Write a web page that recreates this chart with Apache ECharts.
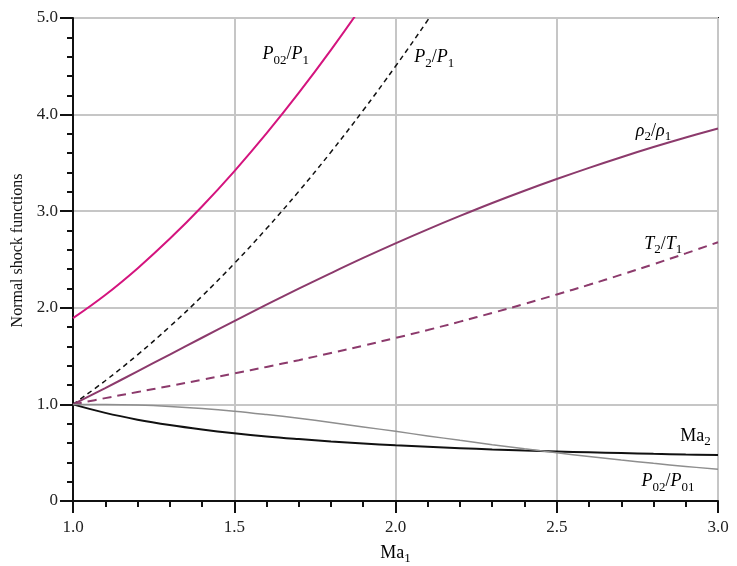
<!DOCTYPE html>
<html>
<head>
<meta charset="utf-8">
<script src="https://cdn.jsdelivr.net/npm/echarts@6/dist/echarts.min.js"></script>
<style>
  html, body { margin: 0; padding: 0; background: #fff; }
  #chart { width: 737px; height: 566px; }
</style>
</head>
<body>
<div id="chart"></div>
<script>
// Mach number upstream (x axis)
var mach1 = [1.0, 1.1, 1.2, 1.3, 1.4, 1.5, 1.6, 1.7, 1.8, 1.9, 2.0,
             2.1, 2.2, 2.3, 2.4, 2.5, 2.6, 2.7, 2.8, 2.9, 3.0];

// curves
var p02p1  = [1.893, 2.133, 2.408, 2.714, 3.049, 3.413, 3.805, 4.224, 4.670, 5.142, 5.640];
var p2p1   = [1.000, 1.245, 1.513, 1.805, 2.120, 2.458, 2.820, 3.205, 3.613, 4.045, 4.500,
              4.978, 5.480];
var rho2   = [1.000, 1.169, 1.342, 1.516, 1.690, 1.862, 2.032, 2.198, 2.359, 2.516, 2.667,
              2.812, 2.951, 3.085, 3.212, 3.333, 3.449, 3.559, 3.664, 3.763, 3.857];
var t2t1   = [1.000, 1.065, 1.128, 1.191, 1.255, 1.320, 1.388, 1.458, 1.532, 1.608, 1.688,
              1.770, 1.857, 1.947, 2.040, 2.138, 2.238, 2.343, 2.451, 2.563, 2.679];
var ma2    = [1.000, 0.912, 0.842, 0.786, 0.740, 0.701, 0.668, 0.641, 0.617, 0.596, 0.577,
              0.561, 0.547, 0.534, 0.523, 0.513, 0.504, 0.496, 0.488, 0.481, 0.475];
var p02p01 = [1.000, 0.999, 0.993, 0.979, 0.958, 0.930, 0.895, 0.856, 0.813, 0.767, 0.721,
              0.674, 0.628, 0.583, 0.540, 0.499, 0.460, 0.424, 0.390, 0.358, 0.328];

var yTicks = ['0', '1.0', '2.0', '3.0', '4.0', '5.0'];

// where the curve names sit (data coords)
var labelPos = {
  p02p1: [1.66, 4.62],
  p2p1: [2.12, 4.59],
  rho: [2.80, 3.83],
  t: [2.83, 2.66],
  ma2: [2.93, 0.67],
  p02p01: [2.845, 0.20]
};

function pairs(ys) {
  var out = [];
  for (var i = 0; i < ys.length; i++) out.push([mach1[i], ys[i]]);
  return out;
}

var serif = 'Liberation Serif';
var rich = {
  i: { fontFamily: serif, fontStyle: 'italic', fontSize: 18, color: '#000', lineHeight: 22 },
  n: { fontFamily: serif, fontSize: 18, color: '#000', lineHeight: 22 },
  g: { fontFamily: serif, fontStyle: 'italic', fontSize: 18, color: '#000', lineHeight: 22 },
  s: { fontFamily: serif, fontSize: 13, color: '#000', lineHeight: 22, padding: [11, 0, 0, 0] }
};

function nameMark(pos, text) {
  return {
    symbol: 'circle',
    symbolSize: 1,
    silent: true,
    itemStyle: { color: 'rgba(0,0,0,0)' },
    data: [{ coord: pos }],
    label: { show: true, position: 'inside', formatter: text, rich: rich }
  };
}

var myChart = echarts.init(document.getElementById('chart'));
var option = {
  animation: false,
  grid: { left: 73, right: 19, top: 18, bottom: 65, outerBoundsMode: 'none',
    show: true, borderColor: '#111', borderWidth: 2 },
  xAxis: {
    type: 'value', min: 1, max: 3, interval: 0.5,
    name: '{n|Ma}{s|1}', nameLocation: 'middle', nameGap: 37,
    nameTextStyle: { rich: rich },
    axisLine: { lineStyle: { color: '#111', width: 2 } },
    axisTick: { length: 12, lineStyle: { color: '#111', width: 2 } },
    minorTick: { show: true, splitNumber: 5, length: 6, lineStyle: { color: '#111', width: 2 } },
    splitLine: { lineStyle: { color: '#c6c6c6', width: 2 } },
    axisLabel: { fontFamily: serif, fontSize: 17, color: '#222', margin: 18,
      formatter: function (v) { return v.toFixed(1); } }
  },
  yAxis: {
    type: 'value', min: 0, max: 5, interval: 1,
    name: 'Normal shock functions', nameLocation: 'middle', nameGap: 47,
    nameTextStyle: { fontFamily: serif, fontSize: 16, color: '#111', padding: [0, 0, 0, 18] },
    axisLine: { lineStyle: { color: '#111', width: 2 } },
    axisTick: { length: 13, lineStyle: { color: '#111', width: 2 } },
    minorTick: { show: true, splitNumber: 5, length: 6, lineStyle: { color: '#111', width: 2 } },
    splitLine: { lineStyle: { color: '#c6c6c6', width: 2 } },
    axisLabel: { fontFamily: serif, fontSize: 17, color: '#222', margin: 15,
      formatter: function (v) { return yTicks[Math.round(v)]; } }
  },
  series: [
    { type: 'line', data: pairs(p02p1), smooth: 0.4, showSymbol: false,
      lineStyle: { color: '#d4147e', width: 2 },
      markPoint: nameMark(labelPos.p02p1, '{i|P}{s|02}{n|/}{i|P}{s|1}') },
    { type: 'line', data: pairs(p2p1), smooth: 0.4, showSymbol: false,
      lineStyle: { color: '#111', width: 1.5, type: [5, 4] },
      markPoint: nameMark(labelPos.p2p1, '{i|P}{s|2}{n|/}{i|P}{s|1}') },
    { type: 'line', data: pairs(rho2), smooth: 0.4, showSymbol: false,
      lineStyle: { color: '#8c3a6c', width: 2 },
      markPoint: nameMark(labelPos.rho, '{g|ρ}{s|2}{n|/}{g|ρ}{s|1}') },
    { type: 'line', data: pairs(t2t1), smooth: 0.4, showSymbol: false,
      lineStyle: { color: '#8c3a6c', width: 2, type: [9, 6] },
      markPoint: nameMark(labelPos.t, '{i|T}{s|2}{n|/}{i|T}{s|1}') },
    { type: 'line', data: pairs(ma2), smooth: 0.4, showSymbol: false,
      lineStyle: { color: '#111', width: 2 },
      markPoint: nameMark(labelPos.ma2, '{n|Ma}{s|2}') },
    { type: 'line', data: pairs(p02p01), smooth: 0.4, showSymbol: false,
      lineStyle: { color: '#8e8e8e', width: 1.5 },
      markPoint: nameMark(labelPos.p02p01, '{i|P}{s|02}{n|/}{i|P}{s|01}') }
  ]
};
myChart.setOption(option);
window.addEventListener('resize', function () {
  myChart.resize();
});
</script>
</body>
</html>
